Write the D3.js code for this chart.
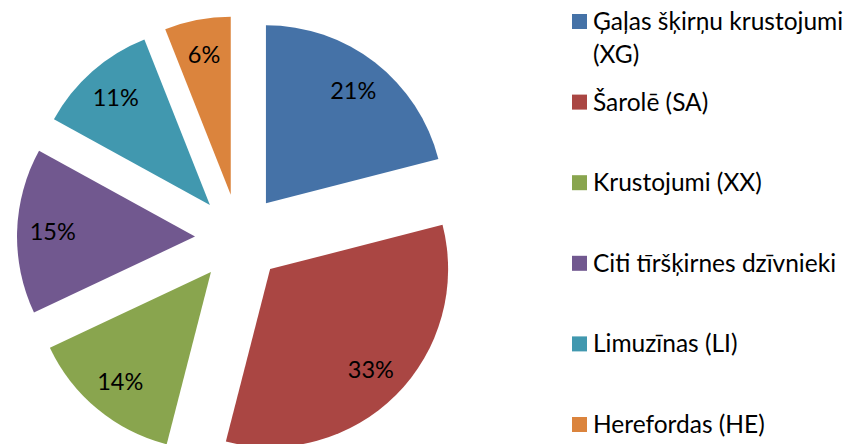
<!DOCTYPE html>
<html>
<head>
<meta charset="utf-8">
<script src="https://cdn.jsdelivr.net/npm/d3@7"></script>
<style>
  body { margin: 0; background: #fff; }
  svg { display: block; font-family: Lato, "Open Sans", sans-serif; }
</style>
</head>
<body>
<div id="chart"></div>
<script>
let width = 848, height = 444;

// data
let categories = [
  ["Ģaļas šķirņu krustojumi", "(XG)"],
  ["Šarolē (SA)"],
  ["Krustojumi (XX)"],
  ["Citi tīršķirnes dzīvnieki"],
  ["Limuzīnas (LI)"],
  ["Herefordas (HE)"]
];
let values = [21, 33, 14, 15, 11, 6];
let colors = ["#4572A7", "#AA4643", "#89A54E", "#71588F", "#4198AF", "#DB843D"];

let radius = 178, explode = 44;
let cx = 239, cy = 238;

let data = values.map((v, i) => ({name: categories[i], value: v, color: colors[i]}));

let pie = d3.pie().value(d => d.value).sort(null);
let arc = d3.arc().innerRadius(0).outerRadius(radius);
let labelArc = d3.arc().innerRadius(radius * 0.8).outerRadius(radius * 0.8);
let format = d => d3.format(".0%")(d / d3.sum(values));

let svg = d3.select("#chart")
  .append("svg")
  .attr("width", width)
  .attr("height", height);

let arcs = pie(data);

let slices = svg.append("g")
  .attr("transform", `translate(${cx},${cy})`)
  .selectAll("g")
  .data(arcs)
  .join("g")
  .attr("transform", d => {
    let a = (d.startAngle + d.endAngle) / 2;
    return `translate(${Math.sin(a) * explode},${-Math.cos(a) * explode})`;
  });

slices.append("path")
  .attr("fill", d => d.data.color)
  .attr("d", arc);

slices.append("text")
  .attr("transform", d => `translate(${labelArc.centroid(d)})`)
  .attr("text-anchor", "middle")
  .attr("dy", "0.35em")
  .attr("font-size", 23.5)
  .attr("fill", "#000")
  .text(d => format(d.data.value));

// legend
let ly = d3.scaleLinear().domain([0, 5]).range([30, 433]);

let legend = svg.append("g")
  .selectAll("g")
  .data(data)
  .join("g")
  .attr("transform", (d, i) => `translate(572,${ly(i)})`);

legend.append("rect")
  .attr("y", -16)
  .attr("width", 15)
  .attr("height", 15)
  .attr("fill", d => d.color);

legend.append("text")
  .attr("x", 21)
  .attr("font-size", 24.5)
  .attr("fill", "#000")
  .selectAll("tspan")
  .data(d => d.name)
  .join("tspan")
  .attr("x", 21)
  .attr("dy", (d, i) => i ? 33 : 0)
  .text(d => d);
</script>
</body>
</html>
